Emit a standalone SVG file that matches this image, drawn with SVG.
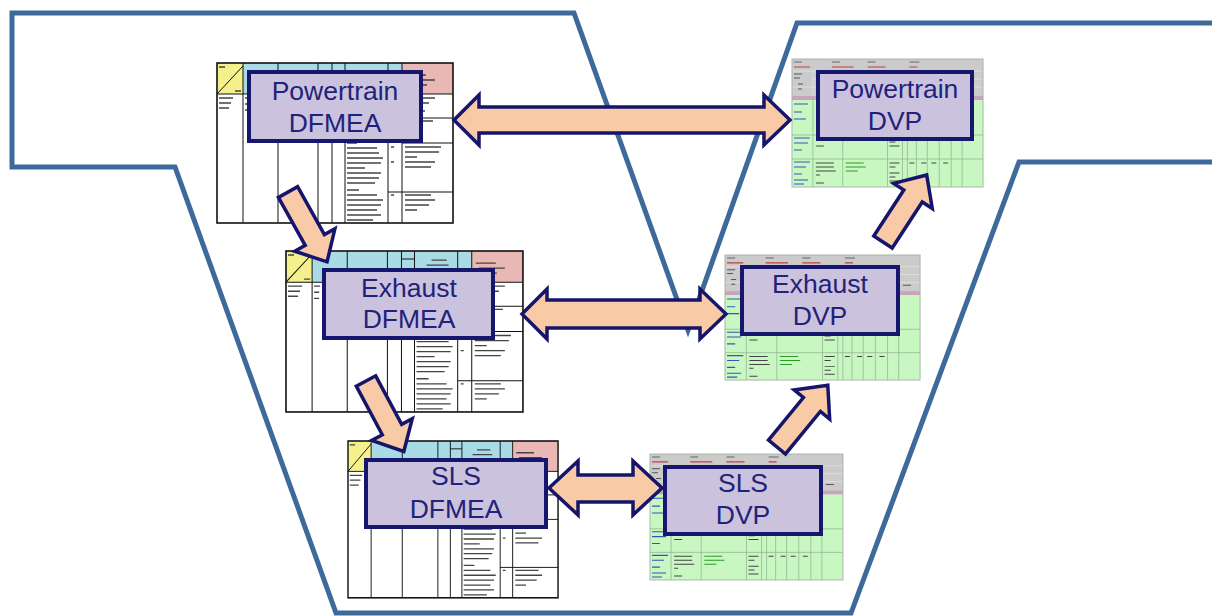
<svg xmlns="http://www.w3.org/2000/svg" xmlns:xlink="http://www.w3.org/1999/xlink" width="1212" height="616" viewBox="0 0 1212 616">
<style>
.outline{fill:none;stroke:#3d6a9a;stroke-width:5;stroke-linejoin:miter}
.box{fill:#cbc3de;stroke:#16166e;stroke-width:4}
.lbl{font-family:"Liberation Sans",Arial,sans-serif;font-size:26.5px;fill:#22227a;text-anchor:middle}
.arr{fill:#f8caa6;stroke:#15156b;stroke-width:3.5;stroke-linejoin:miter}
.tl{stroke:#111;stroke-width:1;fill:none}
.blob{stroke:#444;stroke-width:1.3;fill:none}
.gl{stroke:#93b893;stroke-width:0.8;fill:none}
</style>
<defs>
<g id="dfmea">
<rect x="0" y="0" width="236" height="160" fill="#fff"/>
<rect x="0" y="0" width="26" height="31" fill="#f4f08c"/>
<rect x="26" y="0" width="159" height="31" fill="#a9dbe6"/>
<rect x="185" y="0" width="51" height="31" fill="#e9b7b4"/>
<path class="tl" d="M0 31L26 3M0 31H236M26 0V160M61 0V160M101 0V160M115 0V160M128 0V160M171 0V160M185 0V160M185 55H236M185 80H236M171 129H236M115 8H128"/>
<rect x="0" y="0" width="236" height="160" fill="none" stroke="#111" stroke-width="1.6"/>
<path class="blob" d="M2 4h6M18 28h6M2 35h14M2 40h12M2 45h10M28 35h6M28 41h5M28 47h5M189 12h20M192 17h26M196 22h14M145 9h15M140 14h22M188 35h30M188 40h24M188 48h20M188 58h28M188 63h18M188 70h14M188 84h36M188 89h34M188 94h12M174 84h3M174 99h3M188 99h30M188 104h26M130 64h36M130 69h34M130 74h22M130 80h10M130 85h30M130 90h32M130 95h36M130 100h34M130 105h18M130 110h34M130 115h32M130 120h28M130 127h12M130 132h30M130 137h36M130 142h34M130 147h30M130 152h34M130 157h26M174 132h3M188 132h26M188 137h30M188 142h24M188 147h12M63 35h4M63 41h4M63 47h4M63 53h4M63 59h4"/>
</g>
<g id="dvp">
<rect x="0" y="0" width="192" height="128" fill="#c9f7c2"/>
<rect x="0" y="0" width="192" height="37" fill="#cbcbcb"/>
<rect x="0" y="37" width="192" height="4" fill="#c9a2bd"/>
<path d="M0 12H192M21 20H192M0 28H192M21 12V37M96 12V28M171 12V37" stroke="#e2e2e2" stroke-width="0.8" fill="none"/>
<path class="gl" d="M0 76H192M0 100H192M21 41V128M51 41V128M96 41V128M111 76V128M116 76V128M125 76V128M136 76V128M148 76V128M160 76V128M171 41V128"/>
<rect x="0" y="0" width="192" height="128" fill="none" stroke="#a8b8a8" stroke-width="1"/>
<path d="M2 3h8M40 3h8M76 3h8M118 3h10" stroke="#666" stroke-width="1" fill="none"/>
<path d="M2 8h16M40 8h22M76 8h18M118 8h8" stroke="#c04040" stroke-width="1.2" fill="none"/>
<path d="M2 15h8M2 19h6M6 25h5M6 30h4M175 31h8" stroke="#555" stroke-width="1" fill="none"/>
<path d="M2 45h14M2 53h8M2 60h12M2 79h16M2 84h14M2 91h8M2 103h16M2 108h12M2 115h8M2 121h14M2 125h10" stroke="#3355bb" stroke-width="1.1" fill="none"/>
<path d="M24 87h8M24 124h8M24 104h18M24 108h18M24 112h20M24 116h4M98 79h10M98 83h6M98 87h10M98 104h10M98 108h6M98 114h10M98 118h6M98 122h10M118 104h5M130 104h5M140 104h5M152 104h5" stroke="#444" stroke-width="1" fill="none"/>
<path d="M54 79h14M54 104h18M54 108h20M54 112h12" stroke="#2a9a2a" stroke-width="1" fill="none"/>
</g>
<path id="diag" d="M0 -11L55 -11L55 -23L80 0L55 23L55 11L0 11Z"/>
</defs>

<path class="outline" d="M1212 23L797 23L688 330L574 13L12 13L12 167L175 167L336 613L851 613L1019 162L1212 162"/>

<g id="powertrain-dfmea">
<use xlink:href="#dfmea" transform="translate(217,63)"/>
</g>
<g id="exhaust-dfmea">
<use xlink:href="#dfmea" transform="translate(286,251) scale(1.004,1.006)"/>
</g>
<g id="sls-dfmea">
<use xlink:href="#dfmea" transform="translate(348,441) scale(0.89,0.98)"/>
</g>
<g id="powertrain-dvp">
<use xlink:href="#dvp" transform="translate(792,59) scale(0.995,1)"/>
</g>
<g id="exhaust-dvp">
<use xlink:href="#dvp" transform="translate(725,255) scale(1.016,0.977)"/>
</g>
<g id="sls-dvp">
<use xlink:href="#dvp" transform="translate(650,454) scale(1.005,0.984)"/>
</g>

<g id="connectors">
<polygon class="arr" points="454,120 479,95 479,107 764,107 764,95 790,120 764,145 764,133 479,133 479,145"/>
<polygon class="arr" points="522,314 547,289 547,300 700,300 700,289 726,314 700,339 700,328 547,328 547,339"/>
<polygon class="arr" points="549,488 578,461 578,475 633,475 633,461 662,488 633,515 633,502 578,502 578,515"/>
<use xlink:href="#diag" class="arr" transform="translate(288,192) rotate(60.8)"/>
<use xlink:href="#diag" class="arr" transform="translate(366,381) rotate(61.8)"/>
<use xlink:href="#diag" class="arr" transform="translate(777,447) rotate(-50.6)"/>
<use xlink:href="#diag" class="arr" transform="translate(883,242) rotate(-56.9)"/>
</g>

<g id="powertrain-dfmea-label">
<rect class="box" x="249" y="72" width="172" height="69"/>
<text class="lbl" x="335" y="100">Powertrain</text>
<text class="lbl" x="335" y="132">DFMEA</text>
</g>
<g id="exhaust-dfmea-label">
<rect class="box" x="324" y="270" width="169" height="68"/>
<text class="lbl" x="409" y="297">Exhaust</text>
<text class="lbl" x="409" y="328">DFMEA</text>
</g>
<g id="sls-dfmea-label">
<rect class="box" x="366" y="460" width="180" height="67"/>
<text class="lbl" x="456" y="485">SLS</text>
<text class="lbl" x="456" y="518">DFMEA</text>
</g>
<g id="powertrain-dvp-label">
<rect class="box" x="818" y="72" width="154" height="67"/>
<text class="lbl" x="895" y="98">Powertrain</text>
<text class="lbl" x="895" y="130">DVP</text>
</g>
<g id="exhaust-dvp-label">
<rect class="box" x="742" y="267" width="156" height="67"/>
<text class="lbl" x="820" y="293">Exhaust</text>
<text class="lbl" x="820" y="325">DVP</text>
</g>
<g id="sls-dvp-label">
<rect class="box" x="665" y="467" width="156" height="67"/>
<text class="lbl" x="743" y="492">SLS</text>
<text class="lbl" x="743" y="524">DVP</text>
</g>
</svg>
